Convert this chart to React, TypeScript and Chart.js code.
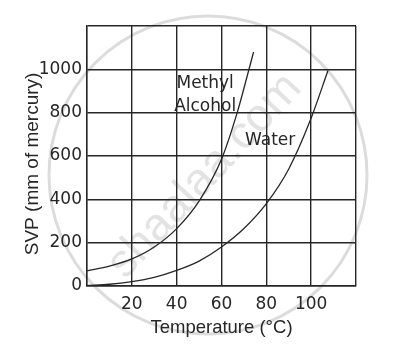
import React, { useEffect, useRef } from "react";
import { Chart, registerables } from "chart.js";

Chart.register(...registerables);

// Methyl alcohol: temperature (°C) vs SVP (mm of mercury)
const methylTemps = [0, 10, 20, 30, 40, 50, 60, 67, 72, 74.3];
const methylSVP = [70, 92, 125, 180, 265, 392, 585, 800, 990, 1080];

// Water: temperature (°C) vs SVP (mm of mercury)
const waterTemps = [0, 10, 20, 30, 40, 50, 60, 70, 80, 90, 100, 107.5];
const waterSVP = [3, 8, 20, 40, 72, 115, 180, 265, 380, 540, 775, 995];

// Axis tick values
const xTicks = [20, 40, 60, 80, 100];
const yTicks = [0, 200, 400, 600, 800, 1000];

// In-plot curve labels (text, data x, data y)
const curveLabels: [string, number, number][] = [
  ["Methyl", 52.7, 935],
  ["Alcohol", 52.7, 826],
  ["Water", 81.7, 673],
];

const INK = "#262626";

const watermark = {
  id: "watermark",
  beforeDraw(chart: any) {
    const ctx = chart.ctx;
    ctx.save();
    ctx.strokeStyle = "#dcdcdc";
    ctx.lineWidth = 3;
    ctx.beginPath();
    ctx.arc(208, 175, 159, 0, Math.PI * 2);
    ctx.stroke();
    ctx.translate(205, 176);
    ctx.rotate((-47 * Math.PI) / 180);
    ctx.fillStyle = "#e3e3e3";
    ctx.font = "46px 'Liberation Sans', Arial, sans-serif";
    ctx.textAlign = "center";
    ctx.textBaseline = "middle";
    ctx.fillText("shaalaa.com", 0, 0);
    ctx.restore();
  },
};

const curveText = {
  id: "curveText",
  afterDatasetsDraw(chart: any) {
    const ctx = chart.ctx;
    const xs = chart.scales.x;
    const ys = chart.scales.y;
    ctx.save();
    ctx.fillStyle = INK;
    ctx.font = "17px 'DejaVu Sans', sans-serif";
    ctx.textAlign = "center";
    ctx.textBaseline = "middle";
    for (const [t, x, y] of curveLabels) {
      ctx.fillText(t, xs.getPixelForValue(x), ys.getPixelForValue(y));
    }
    ctx.restore();
  },
};

export default function App() {
  const ref = useRef<HTMLCanvasElement | null>(null);

  useEffect(() => {
    document.body.style.margin = "0";
    if (!ref.current) return;
    const chart = new Chart(ref.current, {
      type: "line",
      data: {
        datasets: [
          {
            label: "Methyl Alcohol",
            data: methylTemps.map((t, i) => ({ x: t, y: methylSVP[i] })),
            borderColor: INK,
            borderWidth: 1.3,
            pointRadius: 0,
            cubicInterpolationMode: "monotone",
            fill: false,
          },
          {
            label: "Water",
            data: waterTemps.map((t, i) => ({ x: t, y: waterSVP[i] })),
            borderColor: INK,
            borderWidth: 1.3,
            pointRadius: 0,
            cubicInterpolationMode: "monotone",
            fill: false,
          },
        ],
      },
      options: {
        animation: false,
        responsive: false,
        events: [],
        layout: { padding: { top: 26, right: 59, left: 0, bottom: 0 } },
        plugins: {
          legend: { display: false },
          tooltip: { enabled: false },
        },
        scales: {
          x: {
            type: "linear",
            min: 0,
            max: 120,
            afterFit(scale: any) {
              scale.height = 74;
            },
            ticks: {
              stepSize: 20,
              padding: 8,
              color: INK,
              font: { family: "'DejaVu Sans', sans-serif", size: 17 },
              callback: (v: any) => (xTicks.includes(Number(v)) ? String(v) : ""),
            },
            grid: { color: INK, lineWidth: 1.4, drawTicks: false },
            border: { display: true, color: INK, width: 1.4 },
            title: {
              display: true,
              text: "Temperature (°C)",
              color: INK,
              font: { family: "'Liberation Sans', Arial, sans-serif", size: 18.5 },
              padding: 21,
            },
          },
          y: {
            type: "linear",
            min: 0,
            max: 1200,
            afterFit(scale: any) {
              scale.width = 87;
            },
            ticks: {
              stepSize: 200,
              padding: 5,
              color: INK,
              font: { family: "'DejaVu Sans', sans-serif", size: 17 },
              callback: (v: any) => (yTicks.includes(Number(v)) ? String(v) : ""),
            },
            grid: { color: INK, lineWidth: 1.4, drawTicks: false },
            border: { display: true, color: INK, width: 1.4 },
            title: {
              display: true,
              text: "SVP (mm of mercury)\u00a0\u00a0\u00a0",
              color: INK,
              font: { family: "'Liberation Sans', Arial, sans-serif", size: 19 },
              padding: 21,
            },
          },
        },
      },
      plugins: [watermark, curveText],
    });
    return () => chart.destroy();
  }, []);

  return (
    <div style={{ width: 415, height: 360, background: "#fff" }}>
      <canvas ref={ref} width={415} height={360} style={{ display: "block" }} />
    </div>
  );
}
